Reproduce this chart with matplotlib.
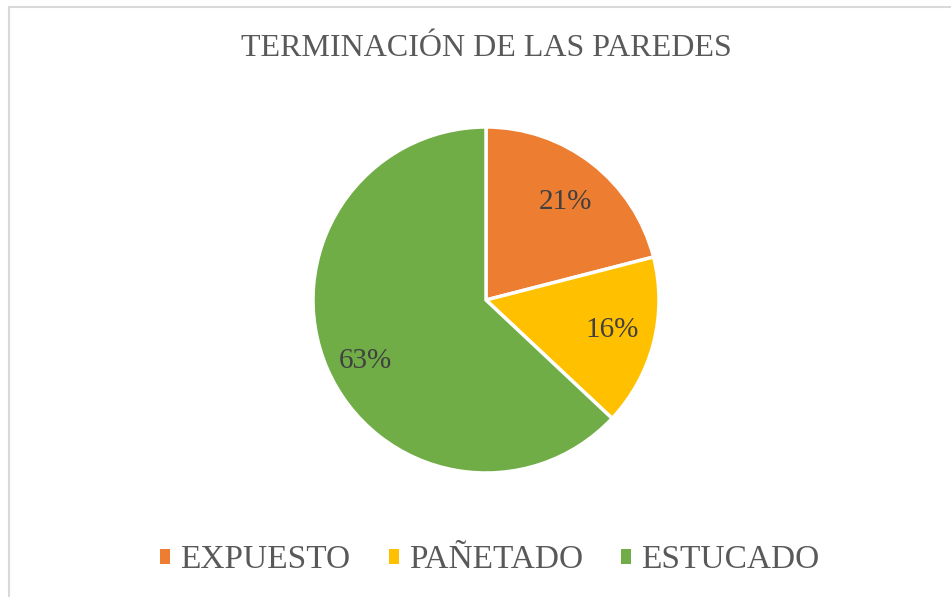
import matplotlib
matplotlib.use("Agg")
import numpy as np
import matplotlib.pyplot as plt
from matplotlib.patches import Patch, Rectangle

# datos del gráfico
categorias = ["EXPUESTO", "PAÑETADO", "ESTUCADO"]
porcentajes = [21, 16, 63]
colores = ["#ED7D31", "#FFC000", "#70AD47"]
titulo = "TERMINACIÓN DE LAS PAREDES"

plt.rcParams['font.family'] = ['Liberation Serif', 'DejaVu Serif']
gris = "#595959"
gris_osc = "#404040"

fig = plt.figure(figsize=(9.51, 5.97), dpi=100)

# marco del gráfico
fig.patches.append(Rectangle((9 / 951, -0.05), 1.1, 1 - 7 / 597 + 0.05,
                             transform=fig.transFigure, fill=False,
                             edgecolor="#D9D9D9", linewidth=1.5))

ax = fig.add_axes([(486 - 173) / 951, (597 - 300 - 173) / 597, 346 / 951, 346 / 597])
wedges, _ = ax.pie(
    porcentajes, colors=colores, startangle=90, counterclock=False, radius=1,
    wedgeprops=dict(edgecolor="white", linewidth=2.5))

# etiquetas de porcentaje (posición parecida a la de Excel)
dist = [0.728, 0.75, 0.783]
giro = [-1.1, 1.0, 3.4]
for w, p, d, g in zip(wedges, porcentajes, dist, giro):
    ang = np.deg2rad((w.theta1 + w.theta2) / 2 + g)
    ax.text(d * np.cos(ang), d * np.sin(ang), f"{p}%", ha="center", va="center",
            fontsize=21, color=gris_osc)

ax.set_xlim(-1, 1)
ax.set_ylim(-1, 1)
ax.set_aspect("equal")
ax.axis("off")

fig.text(486 / 951, 1 - 49 / 597, titulo, ha="center", va="center",
         fontsize=23, color=gris)

handles = [Patch(facecolor=c, edgecolor="none") for c in colores]
leg = fig.legend(handles, categorias, loc="center", bbox_to_anchor=(490 / 951, 1 - 560 / 597),
                 ncol=3, frameon=False, fontsize=24, handlelength=0.3, handleheight=0.3,
                 handletextpad=0.3, columnspacing=1.15)
for t in leg.get_texts():
    t.set_color(gris)

fig.savefig("out.png", dpi=100)
